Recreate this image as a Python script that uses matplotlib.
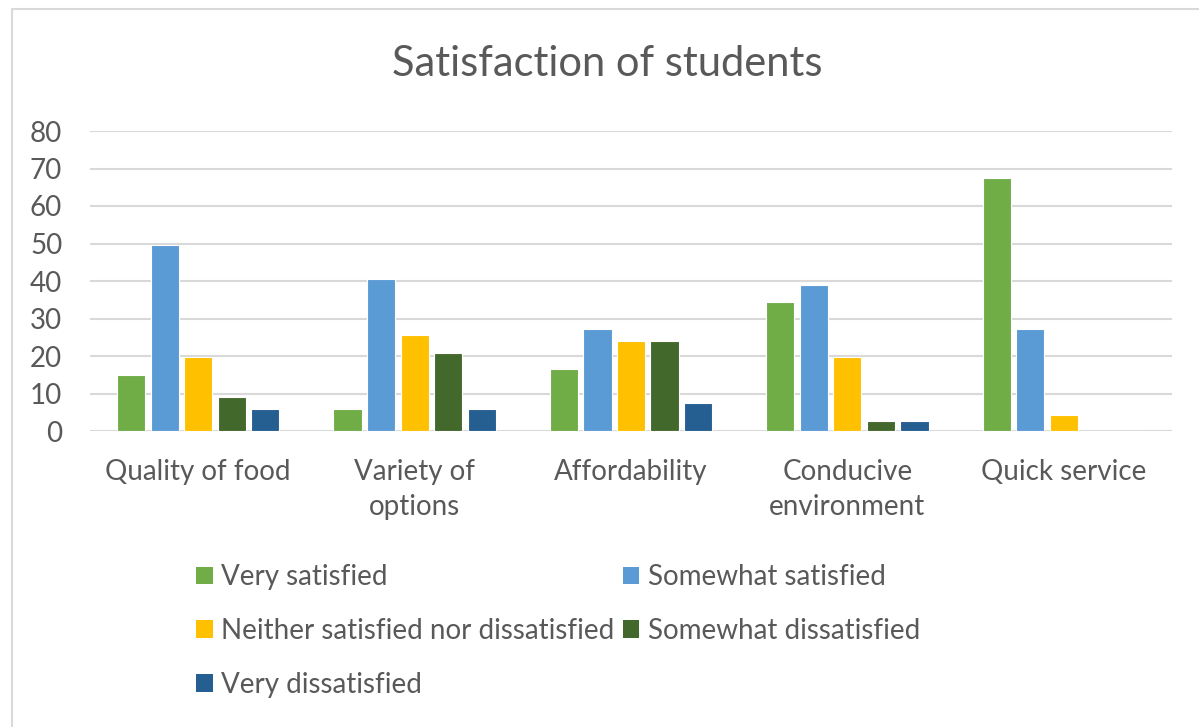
import matplotlib
matplotlib.use("Agg")
import matplotlib.pyplot as plt
import numpy as np
from matplotlib.patches import Rectangle, Patch

categories = ["Quality of food", "Variety of\noptions", "Affordability",
              "Conducive\nenvironment", "Quick service"]
series = ["Very satisfied", "Somewhat satisfied",
          "Neither satisfied nor dissatisfied", "Somewhat dissatisfied",
          "Very dissatisfied"]
very_satisfied = [15.0, 6.0, 16.5, 34.5, 67.5]
somewhat_satisfied = [49.5, 40.5, 27.2, 39.0, 27.2]
neither = [19.7, 25.6, 24.0, 19.7, 4.4]
somewhat_dissatisfied = [9.1, 20.8, 24.0, 2.8, 0.0]
very_dissatisfied = [6.0, 6.0, 7.6, 2.8, 0.0]
colors = ["#70AD47", "#5B9BD5", "#FFC000", "#43682B", "#255E91"]

TEXT = "#595959"
plt.rcParams["font.family"] = ["Lato", "DejaVu Sans"]

fig = plt.figure(figsize=(11.99, 7.27), dpi=100)
ax = fig.add_axes([90 / 1199, 1 - 431 / 727, (1172 - 90) / 1199, 300 / 727])

values = [very_satisfied, somewhat_satisfied, neither,
          somewhat_dissatisfied, very_dissatisfied]
x = np.arange(len(categories))
step = 0.155
handles = []
for i, (vals, col, name) in enumerate(zip(values, colors, series)):
    ax.bar(x + (i - 2) * step, vals, width=0.13, color=col,
           edgecolor="white", linewidth=0.8, zorder=3)
    handles.append(Patch(facecolor=col, label=name))

ax.set_xlim(-0.5, len(categories) - 0.5)
ax.set_ylim(0, 80)
ax.set_yticks(np.arange(0, 81, 10))
ax.grid(axis="y", color="#d9d9d9", linewidth=1.5, zorder=0)
for s in ax.spines.values():
    s.set_visible(False)
ax.tick_params(axis="both", length=0, labelsize=20, labelcolor=TEXT)
ax.tick_params(axis="y", pad=20)
ax.tick_params(axis="x", pad=20)
ax.set_xticks(x)
ax.set_xticklabels(categories, linespacing=1.45)

fig.text(607 / 1199, 1 - 64 / 727, "Satisfaction of students",
         ha="center", va="center", fontsize=30, color=TEXT)

# legend order: column-wise fill reproduces the row-wise layout
order = [0, 2, 4, 1, 3]
leg = fig.legend([handles[k] for k in order], [series[k] for k in order],
                 ncol=2, loc="upper left",
                 bbox_to_anchor=(174 / 1199, 1 - 542 / 727),
                 frameon=False, fontsize=20, labelcolor=TEXT,
                 handlelength=0.6, handleheight=0.6, handletextpad=0.3,
                 labelspacing=1.0, columnspacing=0.3, borderpad=0.3)

fig.add_artist(Rectangle((12 / 1199, -0.1), 1.2, 1.1 - 9 / 727,
                         transform=fig.transFigure, fill=False,
                         edgecolor="#d9d9d9", linewidth=1.5))

fig.savefig("out.png", dpi=100)
